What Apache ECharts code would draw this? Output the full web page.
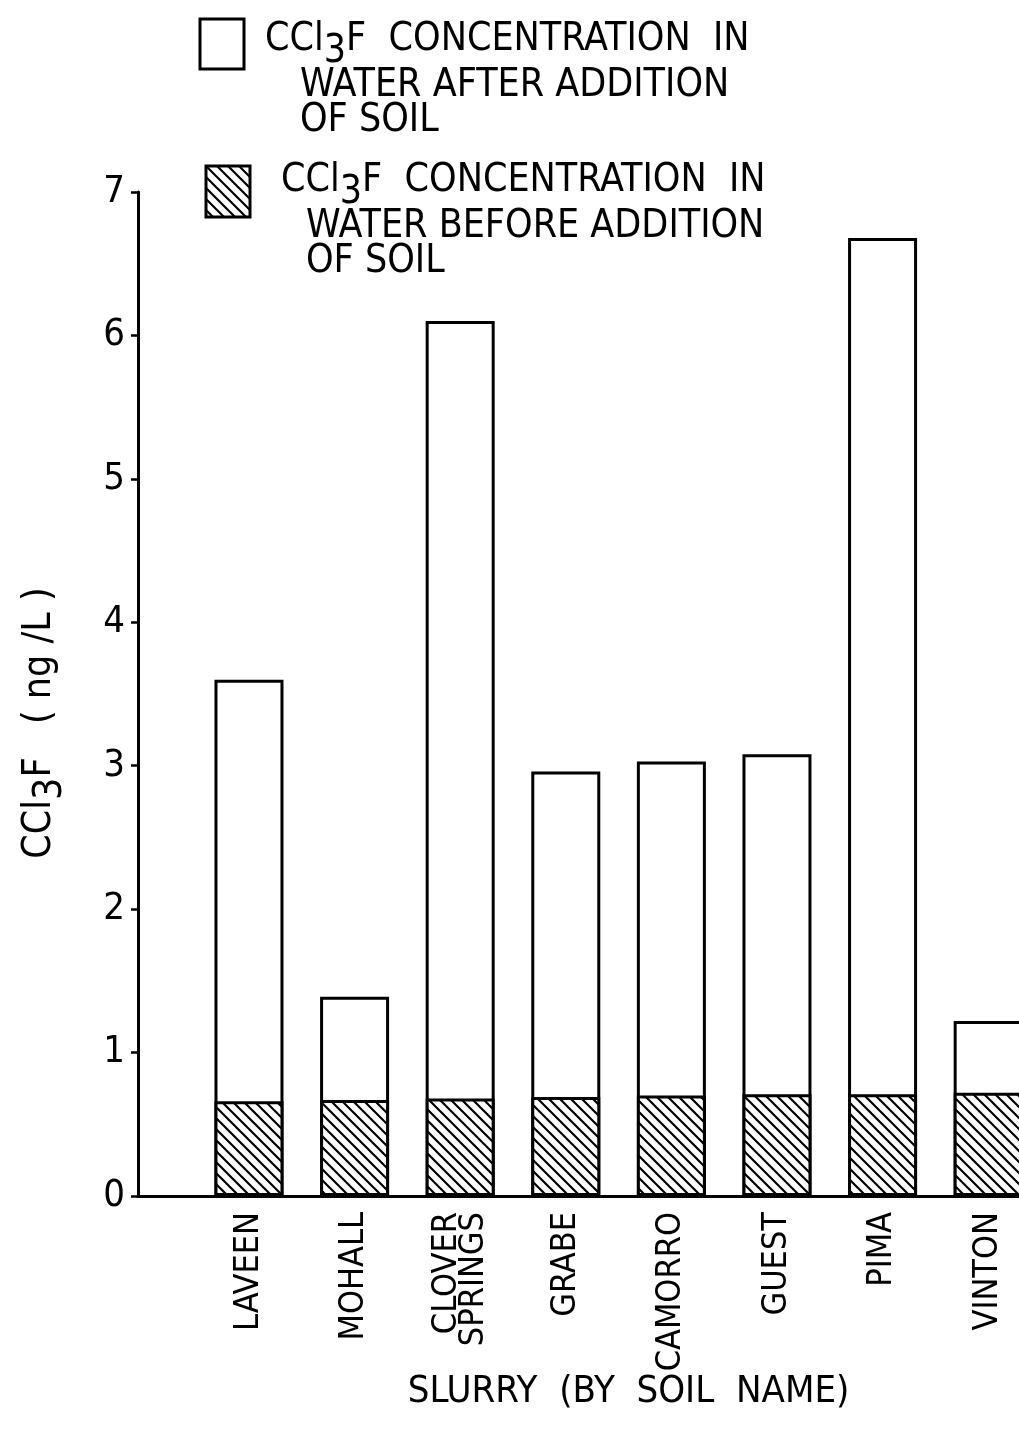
<!DOCTYPE html>
<html>
<head>
<meta charset="utf-8">
<script src="https://cdn.jsdelivr.net/npm/echarts@6/dist/echarts.min.js"></script>
<style>
html,body{margin:0;padding:0;background:#ffffff;}
#chart{width:1019px;height:1435px;}
</style>
</head>
<body>
<div id="chart"></div>
<script>
// ---- data ----
const categories = ['LAVEEN', 'MOHALL', 'CLOVER\nSPRINGS', 'GRABE', 'CAMORRO', 'GUEST', 'PIMA', 'VINTON'];
const positions = [1, 2, 3, 4, 5, 6, 7, 8];
const afterValues = [3.60, 1.39, 6.10, 2.96, 3.03, 3.08, 6.68, 1.22];
const beforeValues = [0.66, 0.67, 0.68, 0.69, 0.70, 0.71, 0.71, 0.72];
const yMin = 0, yMax = 7, yStep = 1;
const nameAfter = 'CCl3F concentration in water after addition of soil';
const nameBefore = 'CCl3F concentration in water before addition of soil';
const xAxisTitle = 'SLURRY  (BY  SOIL  NAME)';

const FONT = '"DejaVu Sans Condensed", "Liberation Sans Narrow", "DejaVu Sans", sans-serif';

// hatch pattern
function makeHatch() {
  const c = document.createElement('canvas');
  const s = 11;
  c.width = s; c.height = s;
  const g = c.getContext('2d');
  g.fillStyle = '#fff';
  g.fillRect(0, 0, s, s);
  g.strokeStyle = '#000';
  g.lineWidth = 2.2;
  g.beginPath();
  g.moveTo(-s, -s); g.lineTo(2 * s, 2 * s);
  g.moveTo(-s, 0); g.lineTo(s, 2 * s);
  g.moveTo(0, -s); g.lineTo(2 * s, s);
  g.stroke();
  return c;
}
const hatch = { image: makeHatch(), repeat: 'repeat' };

const LF = 39;
const legendRich = {
  h: { fontSize: LF, fontFamily: FONT, color: '#000', lineHeight: 46, verticalAlign: 'top' },
  s: { fontSize: LF, fontFamily: FONT, color: '#000', lineHeight: 46, verticalAlign: 'top', padding: [12, 0, 0, 0] },
  b: { fontSize: LF, fontFamily: FONT, color: '#000', lineHeight: 35, verticalAlign: 'top' },
  p16: { width: 16, fontSize: 10, lineHeight: 1, verticalAlign: 'top' },
  p26: { width: 26, fontSize: 10, lineHeight: 1, verticalAlign: 'top' },
  p51: { width: 51, fontSize: 10, lineHeight: 1, verticalAlign: 'top' }
};

function legendText(name) {
  if (name === nameAfter) {
    return '{p16| }{h|CCl}{s|3}{h|F  CONCENTRATION  IN}\n{p51| }{b|WATER AFTER ADDITION}\n{p51| }{b|OF SOIL}';
  }
  return '{p26| }{h|CCl}{s|3}{h|F  CONCENTRATION  IN}\n{p51| }{b|WATER BEFORE ADDITION}\n{p51| }{b|OF SOIL}';
}

function legendCfg(name, left, top, padTop, h) {
  return {
    data: [name],
    left: left, top: top, padding: 0,
    orient: 'vertical',
    icon: 'rect',
    itemWidth: 44, itemHeight: h,
    selectedMode: false,
    itemStyle: { borderColor: '#000', borderWidth: 3 },
    textStyle: { fontFamily: FONT, fontSize: LF, color: '#000', padding: [padTop, 0, 0, 0], rich: legendRich },
    formatter: legendText
  };
}

const chart = echarts.init(document.getElementById('chart'), null, { renderer: 'canvas' });

const option = {
  backgroundColor: '#ffffff',
  animation: false,
  textStyle: { fontFamily: FONT, color: '#000' },
  legend: [
    legendCfg(nameAfter, 198.5, 17.5, 69, 50),
    legendCfg(nameBefore, 204.5, 161.5, 56, 51)
  ],
  grid: { left: 138, right: 0, top: 192, bottom: 239, containLabel: false },
  xAxis: {
    type: 'value',
    min: -0.051,
    max: 8.292,
    splitLine: { show: false },
    axisTick: { show: false },
    axisLine: { onZero: false, lineStyle: { color: '#000', width: 3 } },
    axisLabel: {
      customValues: positions,
      formatter: function (v) { return categories[Math.round(v) - 1] || ''; },
      rotate: 90,
      margin: 16,
      fontSize: 34,
      lineHeight: 27,
      fontFamily: FONT,
      color: '#000'
    },
    name: xAxisTitle,
    nameLocation: 'middle',
    nameGap: 177,
    nameMoveOverlap: false,
    nameTextStyle: { fontSize: 38, fontFamily: FONT, color: '#000', padding: [0, 0, 0, 100] }
  },
  yAxis: {
    type: 'value',
    min: yMin, max: yMax, interval: yStep,
    splitLine: { show: false },
    axisLine: { show: true, onZero: false, lineStyle: { color: '#000', width: 3 } },
    axisTick: { show: true, inside: false, length: 7, lineStyle: { color: '#000', width: 2.5 } },
    axisLabel: { fontSize: 38, fontFamily: FONT, color: '#000', margin: 13 },
    name: '{n|CCl}{s|3}{n|F   ( ng /L )}',
    nameLocation: 'middle',
    nameGap: 78,
    nameRotate: 90,
    nameTextStyle: {
      fontSize: 39, fontFamily: FONT, color: '#000', padding: [0, 58, 0, 0],
      rich: {
        n: { fontSize: 39, fontFamily: FONT, color: '#000', lineHeight: 40, verticalAlign: 'top' },
        s: { fontSize: 39, fontFamily: FONT, color: '#000', lineHeight: 40, verticalAlign: 'top', padding: [11, 0, 0, 0] }
      }
    }
  },
  series: [
    {
      name: nameAfter,
      type: 'bar',
      barWidth: 69,
      barGap: '-100%',
      itemStyle: { color: '#ffffff', borderColor: '#000', borderWidth: 3 },
      data: positions.map((p, i) => [p, afterValues[i]])
    },
    {
      name: nameBefore,
      type: 'bar',
      barWidth: 69,
      barGap: '-100%',
      itemStyle: { color: hatch, borderColor: '#000', borderWidth: 3 },
      data: positions.map((p, i) => [p, beforeValues[i]])
    }
  ]
};
chart.setOption(option);
</script>
</body>
</html>
